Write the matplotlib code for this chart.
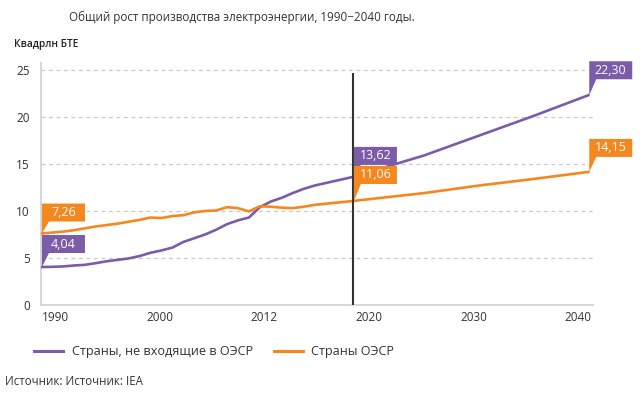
import numpy as np
import matplotlib.pyplot as plt
import matplotlib.transforms as mtransforms
from matplotlib.patches import Polygon
from matplotlib.lines import Line2D

plt.rcParams['font.family'] = ['Open Sans', 'DejaVu Sans']

# данные
years = [1990, 1991, 1992, 1993, 1994, 1995, 1996, 1997, 1998, 1999,
         2000, 2001, 2002, 2003, 2004, 2005, 2006, 2007, 2008, 2009,
         2010, 2011, 2012, 2013, 2014, 2015, 2018.5, 2025, 2030, 2035, 2040]
non_oecd = [4.04, 4.06, 4.1, 4.2, 4.27, 4.45, 4.65, 4.8, 4.95, 5.2,
            5.55, 5.8, 6.1, 6.7, 7.1, 7.5, 8.0, 8.6, 9.0, 9.3,
            10.4, 11.0, 11.4, 11.9, 12.35, 12.7, 13.62, 15.9, 18.0, 20.1, 22.30]
oecd = [7.6, 7.7, 7.8, 7.95, 8.15, 8.35, 8.5, 8.65, 8.85, 9.05,
        9.3, 9.25, 9.45, 9.55, 9.85, 10.0, 10.05, 10.4, 10.3, 9.95,
        10.5, 10.45, 10.35, 10.3, 10.45, 10.65, 11.06, 11.9, 12.7, 13.4, 14.15]

tick_labels = ['1990', '2000', '2012', '2020', '2030', '2040']
yticks = [0, 5, 10, 15, 20, 25]
divider_year = 2018.5

# подписи: (год, значение, текст)
labels_non_oecd = [(1990, 4.04, '4,04'), (2018.5, 13.62, '13,62'), (2040, 22.30, '22,30')]
labels_oecd = [(1990, 7.6, '7,26'), (2018.5, 11.06, '11,06'), (2040, 14.15, '14,15')]
tails_non_oecd = [14, 12, 16]
tails_oecd = [12, 17, 15]

purple = '#7B5CA8'
orange = '#F5871F'
text_c = '#333333'

fig = plt.figure(figsize=(6.4, 3.95), dpi=100)
ax = fig.add_axes([0.064, 0.2278, 0.863, 0.612])

ax.plot(years, non_oecd, color=purple, lw=1.9, solid_joinstyle='round', zorder=3)
ax.plot(years, oecd, color=orange, lw=1.9, solid_joinstyle='round', zorder=3)
ax.vlines(divider_year, 0, 24.65, color='#333333', lw=1.5, zorder=4)

ax.set_xlim(1990, 2040.46)
ax.set_ylim(0, 25.7)
ax.set_yticks(yticks)
ax.set_xticks(np.linspace(1991.3, 2039.1, len(tick_labels)))
ax.set_xticklabels(tick_labels)
ax.tick_params(length=0, labelsize=8.5, colors=text_c)
ax.tick_params(axis='y', pad=8)
ax.tick_params(axis='x', pad=4)
ax.yaxis.grid(True, color='#c8c8c8', lw=0.9, linestyle=(0, (3, 3)))
ax.set_axisbelow(True)
for s in ['top', 'right']:
    ax.spines[s].set_visible(False)
for s in ['left', 'bottom']:
    ax.spines[s].set_color('#d4d4d4')
    ax.spines[s].set_linewidth(1.3)


def flag(x, y, txt, color, th):
    tr = mtransforms.Affine2D() + mtransforms.ScaledTranslation(x, y, ax.transData)
    w, h = 43, 18
    poly = Polygon([(1, 0), (8, th), (1 + w, th), (1 + w, th + h), (1, th + h)],
                   closed=True, facecolor=color, edgecolor='none',
                   transform=tr, zorder=5, clip_on=False)
    ax.add_patch(poly)
    ax.text(1 + w / 2, th + h / 2, txt, transform=tr, color='white',
            fontsize=9, ha='center', va='center', zorder=6)


for (x, y, t), th in zip(labels_non_oecd, tails_non_oecd):
    flag(x, y, t, purple, th)
for (x, y, t), th in zip(labels_oecd, tails_oecd):
    flag(x, y, t, orange, th)

fig.text(0.378, 0.957, 'Общий рост производства электроэнергии, 1990−2040 годы.',
         ha='center', va='center', fontsize=8.4, color=text_c)
fig.text(0.022, 0.888, 'Квадрлн БТЕ', ha='left', va='center',
         fontsize=7.3, color='#222222', fontweight='semibold')

handles = [Line2D([], [], color=purple, lw=2.2), Line2D([], [], color=orange, lw=2.2)]
fig.legend(handles, ['Страны, не входящие в ОЭСР', 'Страны ОЭСР'],
           loc='center', bbox_to_anchor=(0.335, 0.109), ncol=2, frameon=False,
           fontsize=9.1, handlelength=2.3, columnspacing=1.6, handletextpad=0.7,
           labelcolor=text_c)

fig.text(0.008, 0.035, 'Источник: Источник: IEA', ha='left', va='center',
         fontsize=8.3, color=text_c)

fig.savefig('out.png', dpi=100, facecolor='white')
